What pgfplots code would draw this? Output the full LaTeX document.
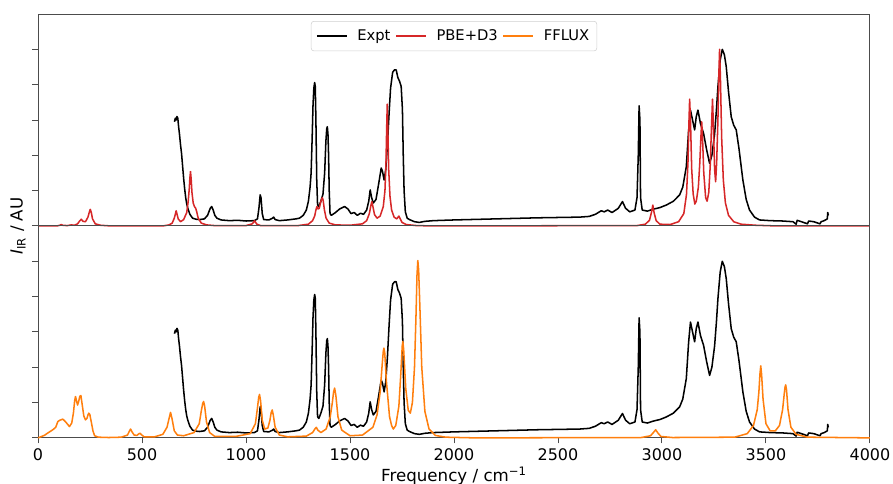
\documentclass[border=0pt]{standalone}
\usepackage{fontspec}
\setmainfont{DejaVu Sans}
\usepackage{pgfplots}
\usepackage{pgfplotstable}
\pgfplotsset{compat=1.18}
\usepgfplotslibrary{groupplots}
\definecolor{tabred}{HTML}{D62728}
\definecolor{taborange}{HTML}{FF7F0E}

% experimental spectrum (same in both panels)
\pgfplotstableread{
x y
656 2.95
660 3.05
664 3.0
668 3.1
672 3.05
676 2.8
680 2.6
685 2.3
690 2.05
695 1.7
700 1.35
705 1.05
710 0.8
715 0.62
720 0.5
730 0.33
743 0.22
760 0.19
776 0.18
800 0.2
815 0.3
828 0.5
835 0.55
842 0.45
850 0.3
860 0.22
880 0.17
920 0.15
960 0.16
1000 0.14
1040 0.15
1055 0.2
1062 0.5
1068 0.88
1072 0.8
1078 0.35
1085 0.18
1110 0.17
1128 0.22
1133 0.25
1140 0.18
1160 0.15
1200 0.17
1240 0.2
1257 0.22
1275 0.3
1290 0.45
1300 0.7
1308 1.1
1313 1.5
1318 2.5
1322 3.4
1326 3.9
1330 4.06
1333 3.95
1336 3.0
1340 1.3
1344 0.6
1350 0.55
1360 0.7
1370 0.9
1378 1.5
1384 2.4
1388 2.75
1391 2.81
1394 2.6
1397 2.0
1400 1.0
1404 0.35
1410 0.3
1430 0.38
1450 0.48
1474 0.55
1490 0.48
1505 0.35
1520 0.38
1535 0.3
1550 0.36
1565 0.33
1580 0.45
1590 0.7
1597 1.02
1604 0.8
1612 0.65
1625 0.75
1638 1.2
1650 1.64
1656 1.55
1664 1.3
1672 1.6
1680 2.3
1688 3.2
1695 3.9
1705 4.35
1714 4.42
1722 4.42
1730 4.2
1738 4.1
1746 3.95
1752 3.3
1756 2.0
1760 1.0
1766 0.4
1775 0.22
1786 0.18
1810 0.12
1833 0.1
1860 0.13
1900 0.15
2000 0.17
2200 0.2
2400 0.23
2604 0.25
2650 0.27
2680 0.33
2708 0.43
2722 0.4
2739 0.45
2760 0.38
2790 0.5
2810 0.69
2825 0.5
2845 0.4
2870 0.45
2880 0.8
2886 2.0
2890 3.4
2894 3.0
2897 0.8
2905 0.45
2930 0.42
2955 0.47
2990 0.52
3020 0.59
3055 0.7
3085 0.88
3100 1.1
3117 1.68
3128 2.7
3137 3.28
3147 3.0
3157 2.72
3165 3.1
3173 3.28
3185 2.9
3200 2.62
3215 2.15
3229 1.77
3240 2.0
3253 2.6
3262 3.3
3269 3.94
3280 4.7
3290 5.0
3300 4.85
3309 4.51
3320 3.8
3333 3.09
3345 2.85
3357 2.72
3370 2.2
3389 1.3
3405 0.75
3421 0.45
3445 0.25
3469 0.17
3520 0.15
3580 0.14
3630 0.12
3645 0.05
3650 0.16
3680 0.1
3700 0.06
3705 0.14
3730 0.12
3760 0.06
3765 0.12
3780 0.15
3795 0.2
3797 0.38
3800 0.3
}\expt

% PBE+D3 spectrum
\pgfplotstableread{
x y
0 0
90 0
105 0.02
111 0.04
118 0.02
140 0.01
160 0.03
175 0.02
190 0.06
200 0.14
208 0.19
216 0.13
228 0.12
240 0.25
246 0.38
251 0.47
256 0.38
262 0.2
275 0.06
300 0.02
350 0
600 0
630 0.03
645 0.08
655 0.22
660 0.33
664 0.43
668 0.34
674 0.2
685 0.12
700 0.18
715 0.38
722 0.7
727 1.05
730 1.35
733 1.54
736 1.35
740 0.95
746 0.65
752 0.55
758 0.5
763 0.4
770 0.22
785 0.08
810 0.03
850 0.01
1000 0.01
1030 0.06
1037 0.11
1041 0.15
1045 0.11
1052 0.05
1070 0.01
1250 0.01
1300 0.05
1320 0.15
1330 0.28
1336 0.45
1341 0.55
1346 0.48
1352 0.5
1358 0.65
1363 0.76
1367 0.8
1371 0.72
1377 0.45
1385 0.22
1400 0.08
1430 0.03
1500 0.02
1560 0.06
1580 0.15
1593 0.35
1600 0.57
1605 0.69
1610 0.55
1618 0.32
1630 0.22
1645 0.28
1660 0.55
1668 1.0
1673 1.8
1676 2.7
1679 3.45
1682 2.7
1686 1.6
1692 0.85
1700 0.45
1712 0.25
1725 0.2
1731 0.25
1735 0.28
1740 0.22
1750 0.1
1770 0.04
1820 0.01
1900 0
2880 0.01
2920 0.05
2940 0.16
2950 0.4
2956 0.59
2962 0.38
2972 0.15
2990 0.05
3040 0.04
3080 0.12
3105 0.35
3118 0.9
3125 1.8
3130 3.0
3133 3.59
3137 3.0
3143 1.6
3150 0.9
3158 0.62
3165 0.7
3175 1.1
3182 1.8
3187 2.5
3191 2.95
3195 2.5
3201 1.5
3210 0.8
3217 0.7
3225 0.95
3232 1.7
3238 2.8
3243 3.59
3247 2.9
3253 1.6
3258 1.25
3263 1.8
3269 3.0
3273 4.2
3277 5.0
3281 4.2
3287 2.5
3295 1.3
3305 0.65
3320 0.3
3345 0.12
3380 0.05
3450 0.02
3550 0
4000 0
}\pbe

% FFLUX spectrum
\pgfplotstableread{
x y
0 0
30 0.07
50 0.15
71 0.23
85 0.3
95 0.46
105 0.5
119 0.53
130 0.47
140 0.4
151 0.32
162 0.42
170 0.7
176 1.05
180 1.17
185 1.05
190 0.93
196 1.05
201 1.18
206 1.2
212 0.95
220 0.62
228 0.51
235 0.55
240 0.65
244 0.7
249 0.66
256 0.45
264 0.2
272 0.06
290 0.02
340 0.01
400 0.02
430 0.08
440 0.2
445 0.25
451 0.18
462 0.08
475 0.07
486 0.12
491 0.13
497 0.09
510 0.03
560 0.03
600 0.1
620 0.3
630 0.55
637 0.72
644 0.55
655 0.2
670 0.08
700 0.06
750 0.15
775 0.4
786 0.8
792 0.98
796 1.03
801 0.9
810 0.45
825 0.15
850 0.04
950 0.04
1020 0.12
1045 0.4
1055 0.85
1061 1.15
1065 1.23
1070 1.05
1078 0.5
1090 0.25
1105 0.28
1115 0.5
1121 0.72
1126 0.79
1131 0.65
1140 0.3
1160 0.08
1200 0.03
1290 0.05
1320 0.15
1332 0.26
1338 0.3
1345 0.22
1360 0.15
1385 0.25
1405 0.6
1415 1.0
1421 1.3
1426 1.41
1432 1.2
1442 0.6
1460 0.22
1500 0.06
1560 0.08
1610 0.3
1630 0.65
1645 1.3
1655 2.1
1660 2.45
1663 2.54
1667 2.4
1675 1.6
1690 0.6
1700 0.35
1708 0.25
1720 0.35
1735 0.9
1745 1.9
1751 2.6
1754 2.73
1758 2.5
1768 1.4
1780 0.78
1790 0.7
1800 1.0
1810 2.0
1817 3.4
1822 4.6
1826 5.02
1830 4.75
1836 3.7
1845 2.0
1860 0.75
1880 0.25
1910 0.07
1960 0.02
2100 0
2900 0.01
2945 0.06
2960 0.16
2970 0.23
2980 0.14
2995 0.04
3050 0.01
3350 0.02
3410 0.12
3440 0.35
3458 0.8
3466 1.3
3471 1.8
3475 2.04
3479 1.8
3486 1.1
3500 0.4
3520 0.2
3545 0.2
3565 0.35
3580 0.8
3588 1.25
3592 1.45
3595 1.5
3599 1.35
3606 0.8
3620 0.3
3645 0.1
3700 0.02
4000 0
}\fflux

\begin{document}
\begin{tikzpicture}
\begin{groupplot}[
  group style={group size=1 by 2, vertical sep=0pt},
  width=599bp, height=152.6bp, scale only axis,
  xmin=0, xmax=4000, ymin=0, ymax=6,
  ytick={0,...,5}, yticklabels={}, ytick pos=left,
  tick align=outside, major tick length=4bp,
  axis line style={black!70, line width=0.7bp},
  tick style={black!70, line width=0.7bp},
  clip=false,
  /pgf/number format/assume math mode=true,
  /pgf/number format/1000 sep={},
  tick label style={font=\fontsize{11.5bp}{13bp}\selectfont},
  every axis plot/.append style={line width=1.1bp, line join=round},
  legend image code/.code={\draw[#1] (0bp,0bp) -- (21.6bp,0bp);},
]
\nextgroupplot[xtick=\empty,
  legend columns=3,
  legend style={at={(0.5,0.967)}, anchor=north, draw=black!18, rounded corners=2pt,
    font=\fontsize{10.6bp}{12bp}\selectfont, inner xsep=3.5bp, inner ysep=4bp,
    /tikz/every odd column/.append style={column sep=5bp},
    /tikz/every even column/.append style={column sep=1.5bp}},
]
\addplot[black] table {\expt};
\addplot[tabred] table {\pbe};
\addlegendimage{taborange, line width=1.1bp}
\legend{Expt, PBE+D3, FFLUX}

\nextgroupplot[xtick={0,500,...,4000}, xtick pos=bottom,
  xlabel={Frequency / cm\textsuperscript{−1}},
  xlabel style={font=\fontsize{12bp}{14bp}\selectfont, yshift=2bp},
]
\addplot[black] table {\expt};
\addplot[taborange] table {\fflux};
\end{groupplot}
\node[rotate=90, font=\fontsize{12bp}{14bp}\selectfont]
  at ($(group c1r1.south west)+(-14.4bp,0)$) {\itshape I\textsubscript{\normalfont IR}\normalfont{} / AU};
\pgfresetboundingbox
\path ($(group c1r1.north west)+(-27.4bp,10.1bp)$) rectangle ($(group c1r2.south east)+(16.6bp,-33.1bp)$);
\end{tikzpicture}
\end{document}
